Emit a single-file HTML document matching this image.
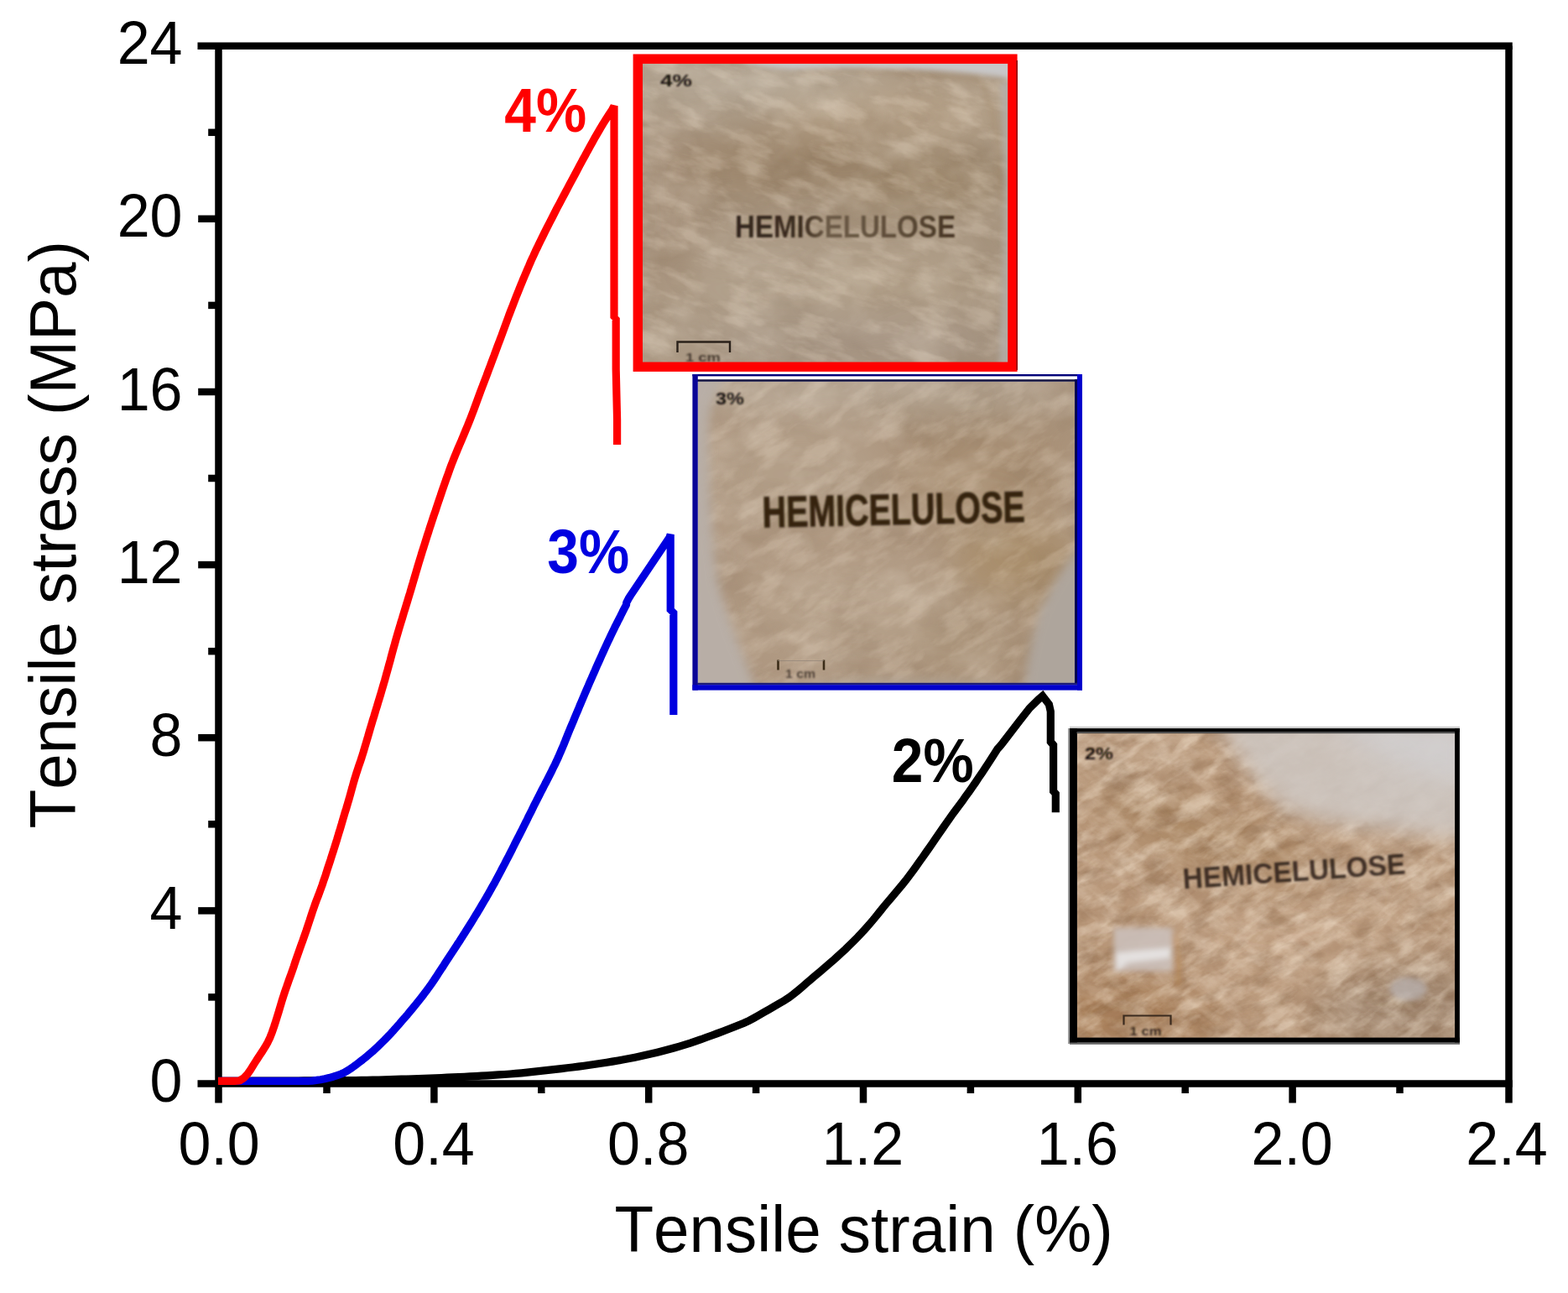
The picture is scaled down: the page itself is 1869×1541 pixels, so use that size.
<!DOCTYPE html>
<html lang="en"><head><meta charset="utf-8"><title>Tensile stress vs tensile strain</title>
<style>
html,body{margin:0;padding:0;background:#fff;}
body{width:1869px;height:1541px;overflow:hidden;}
svg{display:block;filter:blur(0.6px);}
text{font-family:"Liberation Sans",sans-serif;font-kerning:none;}
.tick{font-size:70px;fill:#000;}
.axl{font-size:76.4px;fill:#000;}
.lab{font-size:67.7px;font-weight:bold;}
</style></head><body>
<svg width="1869" height="1541" viewBox="0 0 1869 1541">
<rect width="1869" height="1541" fill="#fff"/>

<defs>
<filter id="b3" x="-20%" y="-20%" width="140%" height="140%"><feGaussianBlur stdDeviation="3"/></filter>
<filter id="b6" x="-30%" y="-30%" width="160%" height="160%"><feGaussianBlur stdDeviation="6"/></filter>
<filter id="b12" x="-50%" y="-50%" width="200%" height="200%"><feGaussianBlur stdDeviation="12"/></filter>
<filter id="b25" x="-60%" y="-60%" width="220%" height="220%"><feGaussianBlur stdDeviation="25"/></filter>
<filter id="tb" x="-5%" y="-20%" width="110%" height="140%"><feGaussianBlur stdDeviation="0.9"/></filter>
<filter id="txA" x="0" y="0" width="100%" height="100%" color-interpolation-filters="sRGB">
<feTurbulence type="fractalNoise" baseFrequency="0.016 0.022" numOctaves="4" seed="7"/>
<feColorMatrix type="matrix" values="0 0 0 0 1  0 0 0 0 0.97  0 0 0 0 0.92  2.2 0 0 0 -0.95"/>
</filter>
<filter id="txB" x="0" y="0" width="100%" height="100%" color-interpolation-filters="sRGB">
<feTurbulence type="fractalNoise" baseFrequency="0.014 0.02" numOctaves="4" seed="21"/>
<feColorMatrix type="matrix" values="0 0 0 0 0.38  0 0 0 0 0.28  0 0 0 0 0.18  2.0 0 0 0 -0.9"/>
</filter>
<filter id="txC" x="0" y="0" width="100%" height="100%" color-interpolation-filters="sRGB">
<feTurbulence type="fractalNoise" baseFrequency="0.035 0.05" numOctaves="4" seed="11"/>
<feColorMatrix type="matrix" values="0 0 0 0 1  0 0 0 0 0.96  0 0 0 0 0.9  3.0 0 0 0 -1.25"/>
</filter>
<filter id="txS" x="0" y="0" width="100%" height="100%" color-interpolation-filters="sRGB">
<feTurbulence type="fractalNoise" baseFrequency="0.022 0.06" numOctaves="4" seed="4"/>
<feColorMatrix type="matrix" values="0 0 0 0 1  0 0 0 0 0.95  0 0 0 0 0.88  3.4 0 0 0 -1.55"/>
</filter>
<filter id="txT" x="0" y="0" width="100%" height="100%" color-interpolation-filters="sRGB">
<feTurbulence type="fractalNoise" baseFrequency="0.024 0.065" numOctaves="4" seed="17"/>
<feColorMatrix type="matrix" values="0 0 0 0 0.42  0 0 0 0 0.28  0 0 0 0 0.16  3.0 0 0 0 -1.4"/>
</filter>
<filter id="txD" x="0" y="0" width="100%" height="100%" color-interpolation-filters="sRGB">
<feTurbulence type="fractalNoise" baseFrequency="0.03 0.045" numOctaves="4" seed="5"/>
<feColorMatrix type="matrix" values="0 0 0 0 0.45  0 0 0 0 0.3  0 0 0 0 0.2  2.6 0 0 0 -1.15"/>
</filter>
<linearGradient id="tg1" x1="0" y1="0" x2="1" y2="0"><stop offset="0" stop-color="#32241a"/><stop offset="0.3" stop-color="#3a2a1c"/><stop offset="0.42" stop-color="#6b5a46"/><stop offset="0.75" stop-color="#5c4b38"/><stop offset="1" stop-color="#43321f"/></linearGradient>
<clipPath id="cp1"><rect x="0" y="0" width="437" height="359"/></clipPath>
<clipPath id="cp2"><rect x="0" y="0" width="451" height="361"/></clipPath>
<clipPath id="cp3"><rect x="0" y="0" width="451" height="364"/></clipPath>
</defs>
<g transform="translate(765,74)"><g clip-path="url(#cp1)">
<rect width="437" height="359" fill="#aa9883"/>
<g filter="url(#b25)">
<ellipse cx="120" cy="22" rx="170" ry="20" fill="#bdb2a3" opacity="0.9"/>
<ellipse cx="300" cy="60" rx="150" ry="24" fill="#bba68c" opacity="0.9"/>
<ellipse cx="170" cy="120" rx="120" ry="45" fill="#9a8368" opacity="0.85"/>
<ellipse cx="320" cy="140" rx="120" ry="35" fill="#988165" opacity="0.85"/>
<ellipse cx="30" cy="180" rx="45" ry="120" fill="#a28c75" opacity="0.7"/>
<ellipse cx="150" cy="270" rx="120" ry="50" fill="#b3a28d" opacity="0.8"/>
<ellipse cx="310" cy="260" rx="100" ry="35" fill="#b3a18b" opacity="0.8"/>
<ellipse cx="260" cy="335" rx="200" ry="30" fill="#a69788" opacity="0.7"/>
</g>
<rect width="437" height="359" filter="url(#txA)" opacity="0.2"/>
<rect width="437" height="359" filter="url(#txB)" opacity="0.14"/>
<rect x="-150" y="-150" width="740" height="660" filter="url(#txS)" opacity="0.2" transform="rotate(18 218 180)"/>
<g filter="url(#b3)">
<path d="M110,-5 L445,-5 L445,22 C430,17 400,13 330,9 C260,6 220,6 190,9 C160,8 130,4 110,-5 Z" fill="#c8c7c8"/>
<path d="M445,20 L445,365 L426,365 C429,300 431,250 432,200 C433,150 432,90 428,26 Z" fill="#b3ada7" opacity="0.85"/>
</g>
<path d="M185,11 C240,8 330,12 400,20 C420,40 426,100 428,170" fill="none" stroke="#9c8262" stroke-width="2.5" opacity="0.55" filter="url(#b3)"/>
<text x="22" y="29" font-family="'DejaVu Sans','Liberation Sans',sans-serif" font-weight="bold" font-size="20.5" fill="#1a1410" textLength="38" lengthAdjust="spacingAndGlyphs" filter="url(#tb)">4%</text>
<text transform="translate(111,208.5) scale(1,1.12)" font-family="'Liberation Sans',sans-serif" font-weight="bold" font-size="33" fill="url(#tg1)" textLength="263" lengthAdjust="spacingAndGlyphs" filter="url(#tb)">HEMICELULOSE</text>
<path d="M42.5,346 V333.5 H105 V346" fill="none" stroke="#2a211a" stroke-width="2.4"/>
<text x="52" y="357" font-family="'Liberation Sans',sans-serif" font-weight="bold" font-size="15" fill="#3a2f26" textLength="42" lengthAdjust="spacingAndGlyphs" filter="url(#tb)" opacity="0.85">1 cm</text>
</g></g>
<g transform="translate(832,454.5)"><g clip-path="url(#cp2)">
<rect width="451" height="361" fill="#ae9780"/>
<g filter="url(#b25)">
<ellipse cx="200" cy="8" rx="260" ry="18" fill="#bdb2a2" opacity="0.95"/>
<ellipse cx="350" cy="42" rx="150" ry="16" fill="#9a8164" opacity="0.85"/>
<ellipse cx="120" cy="110" rx="110" ry="60" fill="#b5a28b" opacity="0.7"/>
<ellipse cx="340" cy="120" rx="110" ry="50" fill="#a58c6e" opacity="0.7"/>
<ellipse cx="380" cy="215" rx="80" ry="45" fill="#a88c66" opacity="0.8"/>
<ellipse cx="190" cy="270" rx="130" ry="60" fill="#b6a38c" opacity="0.8"/>
<ellipse cx="330" cy="320" rx="80" ry="40" fill="#a58e73" opacity="0.7"/>
</g>
<rect width="451" height="361" filter="url(#txA)" opacity="0.2"/>
<rect width="451" height="361" filter="url(#txB)" opacity="0.14"/>
<rect x="-150" y="-150" width="750" height="660" filter="url(#txS)" opacity="0.18" transform="rotate(-30 225 180)"/>
<g filter="url(#b6)">
<path d="M-10,-10 L40,-10 C20,10 12,30 12,60 C13,130 17,200 24,240 C36,290 56,330 72,375 L-10,375 Z" fill="#b8aea6"/>
<path d="M460,192 C440,212 420,245 408,275 C398,305 392,335 388,375 L460,375 Z" fill="#aea59c"/>
<path d="M70,375 C120,356 200,350 300,355 C345,357 378,364 394,375 Z" fill="#b0a494" opacity="0.7"/>
</g>
<text x="21" y="27" font-family="'DejaVu Sans','Liberation Sans',sans-serif" font-weight="bold" font-size="20" fill="#1a1410" textLength="34" lengthAdjust="spacingAndGlyphs" filter="url(#tb)">3%</text>
<text transform="translate(77,174) rotate(-1.2) scale(1,1.3)" font-family="'Liberation Sans',sans-serif" font-weight="bold" font-size="40" fill="#34240f" stroke="#34240f" stroke-width="0.7" textLength="313" lengthAdjust="spacingAndGlyphs" filter="url(#tb)">HEMICELULOSE</text>
<path d="M95.5,344 V332" fill="none" stroke="#3a2c18" stroke-width="2.6"/><path d="M150,344 V332" fill="none" stroke="#3a2c18" stroke-width="2.6"/><path d="M95,333 H150" fill="none" stroke="#8a7f74" stroke-width="1.2" opacity="0.6"/>
<text x="104" y="353" font-family="'Liberation Sans',sans-serif" font-weight="bold" font-size="14" fill="#3a2f26" textLength="36" lengthAdjust="spacingAndGlyphs" filter="url(#tb)" opacity="0.8">1 cm</text>
</g></g>
<g transform="translate(1283.5,873.5)"><g clip-path="url(#cp3)">
<rect width="451" height="364" fill="#b9987a"/>
<g filter="url(#b25)">
<ellipse cx="400" cy="40" rx="70" ry="40" fill="#cfcac7" opacity="0.8"/>
<ellipse cx="60" cy="30" rx="90" ry="30" fill="#c2a68c" opacity="0.8"/>
<ellipse cx="150" cy="120" rx="150" ry="40" fill="#a98663" opacity="0.85" transform="rotate(20 150 120)"/>
<ellipse cx="50" cy="335" rx="120" ry="45" fill="#a57b54" opacity="0.9"/>
<ellipse cx="390" cy="325" rx="110" ry="60" fill="#a08670" opacity="0.9"/>
<ellipse cx="250" cy="245" rx="150" ry="55" fill="#c3a486" opacity="0.7"/>
<ellipse cx="380" cy="170" rx="90" ry="40" fill="#bd9f84" opacity="0.6"/>
</g>
<rect width="451" height="364" filter="url(#txC)" opacity="0.18"/>
<rect width="451" height="364" filter="url(#txD)" opacity="0.14"/>
<rect x="-150" y="-150" width="750" height="660" filter="url(#txS)" opacity="0.34" transform="rotate(-32 225 182)"/>
<rect x="-150" y="-150" width="750" height="660" filter="url(#txT)" opacity="0.24" transform="rotate(-20 225 182)"/>
<rect x="-150" y="-150" width="750" height="660" filter="url(#txS)" opacity="0.16" transform="rotate(35 225 182)"/>
<g filter="url(#b12)">
<path d="M165,-20 L470,-20 L470,128 C420,122 370,116 320,110 C280,106 250,94 235,80 C205,48 185,20 165,-20 Z" fill="#cdc6c1" opacity="0.88"/>
<path d="M300,-10 L470,-10 L470,60 C420,50 360,30 300,-10 Z" fill="#d2d0d2" opacity="0.7"/>
</g>
<g filter="url(#b3)">
<rect x="44" y="232" width="70" height="52" fill="#c9bdb6" opacity="0.95"/>
<path d="M46,262 L112,256 L112,268 L60,274 L48,286 Z" fill="#e6e4e3" opacity="0.95"/>
<path d="M116,240 C120,260 122,285 120,300" fill="none" stroke="#b9854a" stroke-width="4" opacity="0.7"/>
<ellipse cx="395" cy="305" rx="22" ry="14" fill="#b9b3b4" opacity="0.7"/>
</g>
<text x="9.5" y="31" font-family="'DejaVu Sans','Liberation Sans',sans-serif" font-weight="bold" font-size="20" fill="#1a1008" textLength="34" lengthAdjust="spacingAndGlyphs" filter="url(#tb)">2%</text>
<text transform="translate(127,186) rotate(-3.9) scale(1,1.02)" font-family="'Liberation Sans',sans-serif" font-weight="bold" font-size="33.5" fill="#2c1e14" textLength="266" lengthAdjust="spacingAndGlyphs" filter="url(#tb)" opacity="0.85">HEMICELULOSE</text>
<path d="M56,348 V337 H112 V348" fill="none" stroke="#3a2a1e" stroke-width="2.2"/>
<text x="63" y="360" font-family="'DejaVu Sans','Liberation Sans',sans-serif" font-weight="bold" font-size="15" fill="#2a1d14" textLength="38" lengthAdjust="spacingAndGlyphs" filter="url(#tb)" opacity="0.9">1 cm</text>
</g></g>
<rect x="760.3" y="70.2" width="446.6" height="367" fill="none" stroke="#ff0000" stroke-width="11.4"/>
<rect x="1211.2" y="72" width="1.8" height="369" fill="#990000"/>
<g>
<rect x="825.4" y="446" width="464.6" height="8.8" fill="#fff"/>
<rect x="825.4" y="446" width="464.6" height="2.4" fill="#000078"/>
<rect x="831" y="452.2" width="452" height="2.6" fill="#141440"/>
<rect x="825.4" y="446" width="6.4" height="376.6" fill="#0a0596"/>
<rect x="1281" y="452" width="3.2" height="364" fill="#000050"/>
<rect x="1284" y="446" width="6" height="376.6" fill="#0000cc"/>
<rect x="831" y="813.8" width="453" height="2.6" fill="#1c1c78"/>
<rect x="825.4" y="816.2" width="464.6" height="6.4" fill="#0000cc"/>
</g>
<g>
<rect x="1272.6" y="866" width="467.3" height="379" fill="none" stroke="none"/>
<rect x="1273" y="868" width="2.4" height="376" fill="#999"/>
<rect x="1275" y="865.8" width="465" height="2.4" fill="#ccc"/>
<rect x="1275" y="1242.2" width="465" height="2.6" fill="#666"/>
<rect x="1275.1" y="868.1" width="8.8" height="374.3" fill="#000"/>
<rect x="1275.1" y="868.1" width="464.8" height="4.4" fill="#000"/>
<rect x="1283.5" y="872.3" width="451" height="1.8" fill="#444"/>
<rect x="1734.1" y="868.1" width="5.8" height="374.3" fill="#000"/>
<rect x="1275.1" y="1236.6" width="464.8" height="5.8" fill="#000"/>
</g>
<g stroke="#000" fill="none" stroke-width="8.5">
<line x1="235.5" y1="54.7" x2="1802.75" y2="54.7"/>
<line x1="235.5" y1="1291.5" x2="1802.75" y2="1291.5"/>
<line x1="260.5" y1="54.7" x2="260.5" y2="1314.5"/>
<line x1="1798.5" y1="54.7" x2="1798.5" y2="1314.5"/>
<line x1="389.5" y1="1291.5" x2="389.5" y2="1303.0"/>
<line x1="517.4" y1="1291.5" x2="517.4" y2="1314.5"/>
<line x1="645.3" y1="1291.5" x2="645.3" y2="1303.0"/>
<line x1="773.2" y1="1291.5" x2="773.2" y2="1314.5"/>
<line x1="901.1" y1="1291.5" x2="901.1" y2="1303.0"/>
<line x1="1029.0" y1="1291.5" x2="1029.0" y2="1314.5"/>
<line x1="1156.9" y1="1291.5" x2="1156.9" y2="1303.0"/>
<line x1="1284.8" y1="1291.5" x2="1284.8" y2="1314.5"/>
<line x1="1412.7" y1="1291.5" x2="1412.7" y2="1303.0"/>
<line x1="1540.6" y1="1291.5" x2="1540.6" y2="1314.5"/>
<line x1="1668.5" y1="1291.5" x2="1668.5" y2="1303.0"/>
<line x1="248.2" y1="1188.4" x2="260.5" y2="1188.4"/>
<line x1="236.2" y1="1085.4" x2="260.5" y2="1085.4"/>
<line x1="248.2" y1="982.3" x2="260.5" y2="982.3"/>
<line x1="236.2" y1="879.2" x2="260.5" y2="879.2"/>
<line x1="248.2" y1="776.2" x2="260.5" y2="776.2"/>
<line x1="236.2" y1="673.1" x2="260.5" y2="673.1"/>
<line x1="248.2" y1="570.0" x2="260.5" y2="570.0"/>
<line x1="236.2" y1="467.0" x2="260.5" y2="467.0"/>
<line x1="248.2" y1="363.9" x2="260.5" y2="363.9"/>
<line x1="236.2" y1="260.8" x2="260.5" y2="260.8"/>
<line x1="248.2" y1="157.8" x2="260.5" y2="157.8"/>
</g>
<g fill="none" stroke-linejoin="bevel" stroke-linecap="butt">
<path stroke-linejoin="miter" stroke-miterlimit="3" d="M260.0,1288.3 L266.8,1288.3 L273.7,1288.3 L280.5,1288.3 L287.3,1288.3 L294.1,1288.3 L301.0,1288.2 L307.8,1288.2 L314.6,1288.2 L321.4,1288.2 L328.3,1288.1 L335.1,1288.1 L341.9,1288.1 L348.7,1288.0 L355.6,1288.0 L362.4,1287.9 L369.2,1287.9 L376.0,1287.9 L382.9,1287.8 L389.7,1287.8 L396.5,1287.7 L403.4,1287.6 L410.2,1287.6 L417.0,1287.5 L423.8,1287.5 L430.7,1287.4 L437.5,1287.3 L444.3,1287.1 L451.1,1287.0 L458.0,1286.8 L464.8,1286.6 L471.6,1286.4 L478.4,1286.2 L485.2,1286.0 L492.1,1285.8 L498.9,1285.5 L505.7,1285.3 L512.5,1285.1 L519.4,1284.8 L526.2,1284.5 L533.0,1284.2 L539.8,1283.9 L546.6,1283.6 L553.5,1283.3 L560.3,1282.9 L567.1,1282.6 L573.9,1282.2 L580.7,1281.8 L587.5,1281.4 L594.4,1280.9 L601.2,1280.5 L608.0,1280.0 L614.8,1279.4 L621.6,1278.8 L628.4,1278.1 L635.1,1277.4 L641.9,1276.7 L648.7,1275.9 L655.5,1275.1 L662.3,1274.4 L669.1,1273.6 L675.9,1272.8 L682.6,1272.0 L689.4,1271.1 L696.2,1270.2 L702.9,1269.3 L709.7,1268.3 L716.4,1267.3 L723.2,1266.2 L729.9,1265.1 L736.7,1264.0 L743.4,1262.8 L750.1,1261.5 L756.8,1260.2 L763.5,1258.8 L770.1,1257.3 L776.8,1255.8 L783.4,1254.2 L790.1,1252.5 L796.7,1250.8 L803.2,1249.0 L809.8,1247.1 L816.3,1245.1 L822.8,1243.1 L829.3,1240.9 L835.7,1238.7 L842.2,1236.3 L848.6,1234.0 L855.0,1231.6 L861.4,1229.2 L867.8,1226.8 L874.2,1224.3 L880.5,1221.8 L886.8,1219.2 L893.0,1216.3 L899.0,1213.1 L904.9,1209.8 L910.9,1206.3 L916.8,1202.9 L922.7,1199.5 L928.7,1196.1 L934.6,1192.6 L940.3,1188.9 L945.7,1184.9 L951.0,1180.6 L956.2,1176.2 L961.4,1171.6 L966.6,1167.2 L971.8,1162.8 L977.0,1158.4 L982.2,1154.0 L987.4,1149.5 L992.6,1145.1 L997.7,1140.5 L1002.7,1135.9 L1007.7,1131.3 L1012.6,1126.5 L1017.5,1121.7 L1022.3,1116.9 L1027.0,1111.9 L1031.6,1106.9 L1036.1,1101.8 L1040.5,1096.6 L1044.8,1091.3 L1049.1,1086.0 L1053.4,1080.7 L1057.8,1075.4 L1062.2,1070.2 L1066.6,1065.0 L1071.0,1059.8 L1075.4,1054.5 L1079.7,1049.2 L1083.8,1043.8 L1087.9,1038.3 L1091.9,1032.8 L1095.8,1027.2 L1099.8,1021.6 L1103.7,1016.0 L1107.6,1010.5 L1111.5,1004.9 L1115.4,999.2 L1119.2,993.6 L1123.1,988.0 L1127.0,982.4 L1130.9,976.8 L1134.9,971.2 L1138.9,965.7 L1143.0,960.3 L1147.1,954.8 L1151.0,949.2 L1155.0,943.7 L1158.9,938.1 L1162.8,932.5 L1166.6,926.8 L1170.5,921.2 L1174.2,915.5 L1178.0,909.8 L1181.7,904.0 L1185.4,898.3 L1189.0,892.5 L1189.0,892.5 L1191.9,889.4 L1195.0,885.6 L1216.2,858.0 L1227.2,844.0 L1238.0,833.5 L1242.7,829.5 L1242.7,829.5 L1250.4,839.5 L1252.3,848.0 L1252.3,884.0 L1255.6,888.0 L1255.6,943.0 L1258.3,946.0 L1258.3,968.3" stroke="#000" stroke-width="9.2"/>
<path d="M260.0,1288.3 L265.1,1288.3 L270.2,1288.3 L275.3,1288.3 L280.5,1288.3 L285.6,1288.3 L290.7,1288.3 L295.8,1288.3 L300.9,1288.3 L306.0,1288.3 L311.0,1288.3 L316.1,1288.3 L321.2,1288.3 L326.3,1288.3 L331.4,1288.3 L336.5,1288.3 L341.6,1288.3 L346.6,1288.3 L351.7,1288.3 L356.8,1288.3 L361.9,1288.3 L366.9,1288.3 L372.0,1288.1 L377.1,1287.4 L382.1,1286.7 L387.2,1285.7 L392.2,1284.6 L397.2,1283.2 L402.0,1281.7 L406.7,1280.0 L411.2,1277.8 L415.5,1275.3 L419.8,1272.4 L424.0,1269.3 L428.1,1266.2 L432.2,1263.0 L436.1,1259.9 L440.0,1256.6 L443.9,1253.3 L447.6,1249.8 L451.4,1246.3 L455.0,1242.7 L458.6,1239.2 L462.2,1235.5 L465.7,1231.8 L469.1,1228.1 L472.5,1224.3 L475.9,1220.4 L479.2,1216.6 L482.6,1212.7 L485.9,1208.9 L489.1,1205.0 L492.4,1201.0 L495.6,1197.1 L498.8,1193.1 L502.0,1189.1 L505.1,1185.1 L508.2,1181.0 L511.2,1176.9 L514.1,1172.8 L517.0,1168.6 L519.8,1164.4 L522.6,1160.1 L525.4,1155.8 L528.2,1151.6 L530.9,1147.3 L533.7,1143.0 L536.5,1138.7 L539.3,1134.5 L542.1,1130.2 L544.9,1125.9 L547.7,1121.7 L550.4,1117.4 L553.2,1113.1 L555.9,1108.8 L558.6,1104.5 L561.3,1100.2 L564.0,1095.9 L566.6,1091.5 L569.3,1087.2 L571.9,1082.8 L574.5,1078.4 L577.1,1074.0 L579.7,1069.6 L582.2,1065.2 L584.7,1060.8 L587.2,1056.3 L589.7,1051.9 L592.1,1047.4 L594.5,1042.9 L596.9,1038.4 L599.2,1033.9 L601.6,1029.4 L603.9,1024.9 L606.3,1020.3 L608.6,1015.8 L610.9,1011.3 L613.2,1006.7 L615.5,1002.2 L617.8,997.7 L620.1,993.1 L622.4,988.6 L624.7,984.0 L627.0,979.4 L629.2,974.9 L631.5,970.3 L633.8,965.8 L636.0,961.2 L638.3,956.7 L640.6,952.1 L642.9,947.6 L645.2,943.0 L647.6,938.5 L649.9,934.0 L652.3,929.4 L654.6,924.9 L656.9,920.4 L659.1,915.8 L661.4,911.2 L663.6,906.6 L665.7,902.0 L667.7,897.3 L669.7,892.7 L671.7,888.0 L673.6,883.3 L675.5,878.5 L677.4,873.8 L679.3,869.1 L681.3,864.4 L683.3,859.7 L685.2,855.0 L687.2,850.3 L689.2,845.6 L691.1,840.9 L693.1,836.2 L695.1,831.5 L697.1,826.8 L699.1,822.1 L701.1,817.5 L703.1,812.8 L705.2,808.1 L707.2,803.5 L709.3,798.8 L711.3,794.1 L713.4,789.5 L715.5,784.8 L717.6,780.2 L719.7,775.5 L721.8,770.9 L723.9,766.3 L726.1,761.7 L728.3,757.1 L730.5,752.5 L732.7,747.9 L735.0,743.4 L737.3,738.8 L739.6,734.3 L741.9,729.7 L744.2,725.2 L746.6,720.7 L746.6,718.5 L749.0,713.8 L751.5,709.8 L775.0,674.8 L798.0,640.5 L799.2,637.0 L799.2,728.5 L802.8,728.5 L802.8,852.0" stroke="#0000e0" stroke-width="9.2"/>
<path d="M260.0,1288.3 L266.7,1288.3 L273.2,1288.3 L279.4,1288.3 L285.5,1288.0 L290.8,1284.7 L295.0,1280.2 L298.7,1274.8 L302.2,1269.1 L305.7,1263.6 L309.2,1258.3 L312.8,1252.9 L316.2,1247.4 L319.3,1241.9 L322.0,1236.2 L324.3,1230.3 L326.4,1224.2 L328.4,1218.1 L330.3,1212.0 L332.2,1205.9 L334.0,1199.8 L335.8,1193.7 L337.7,1187.6 L339.7,1181.5 L341.8,1175.5 L343.9,1169.4 L346.1,1163.4 L348.2,1157.4 L350.3,1151.4 L352.3,1145.3 L354.4,1139.3 L356.5,1133.3 L358.6,1127.3 L360.8,1121.2 L362.9,1115.2 L365.0,1109.2 L367.0,1103.1 L369.0,1097.1 L371.0,1091.0 L373.0,1084.9 L375.1,1078.9 L377.3,1072.9 L379.6,1067.0 L381.8,1061.0 L384.0,1055.0 L386.0,1048.9 L388.1,1042.9 L390.0,1036.8 L392.0,1030.7 L394.0,1024.7 L395.9,1018.6 L397.9,1012.5 L399.8,1006.4 L401.7,1000.3 L403.5,994.2 L405.4,988.1 L407.2,982.0 L409.0,975.8 L410.8,969.7 L412.7,963.6 L414.5,957.5 L416.3,951.4 L418.0,945.2 L419.7,939.1 L421.4,932.9 L423.2,926.8 L425.1,920.7 L427.1,914.6 L429.2,908.6 L431.2,902.5 L433.1,896.4 L434.9,890.3 L436.7,884.2 L438.5,878.1 L440.3,871.9 L442.1,865.8 L443.9,859.7 L445.8,853.6 L447.6,847.5 L449.5,841.4 L451.3,835.3 L453.2,829.2 L455.0,823.0 L456.8,816.9 L458.6,810.8 L460.3,804.6 L462.0,798.5 L463.7,792.3 L465.4,786.2 L467.0,780.0 L468.7,773.8 L470.4,767.7 L472.1,761.5 L473.9,755.4 L475.7,749.3 L477.5,743.2 L479.4,737.1 L481.2,731.0 L483.1,724.8 L485.0,718.7 L486.8,712.6 L488.7,706.5 L490.5,700.4 L492.3,694.3 L494.1,688.1 L495.9,682.0 L497.7,675.9 L499.5,669.8 L501.4,663.7 L503.2,657.6 L505.2,651.5 L507.1,645.4 L509.0,639.3 L511.0,633.2 L512.9,627.2 L514.9,621.1 L516.9,615.0 L519.0,609.0 L521.0,602.9 L523.0,596.9 L525.1,590.8 L527.1,584.8 L529.2,578.7 L531.3,572.7 L533.5,566.7 L535.6,560.7 L537.8,554.7 L540.1,548.8 L542.5,542.8 L544.9,536.9 L547.4,531.0 L549.9,525.2 L552.4,519.3 L554.8,513.4 L557.3,507.5 L559.7,501.6 L562.0,495.6 L564.3,489.7 L566.5,483.7 L568.7,477.7 L570.9,471.7 L573.1,465.7 L575.4,459.7 L577.6,453.8 L579.9,447.8 L582.1,441.8 L584.4,435.8 L586.6,429.9 L588.9,423.9 L591.1,417.9 L593.3,411.9 L595.6,405.9 L597.8,400.0 L600.0,394.0 L602.2,388.0 L604.4,382.0 L606.6,376.0 L608.9,370.0 L611.2,364.1 L613.5,358.1 L615.8,352.2 L618.2,346.3 L620.6,340.3 L623.0,334.4 L625.5,328.5 L628.0,322.6 L630.5,316.8 L633.0,310.9 L635.7,305.1 L638.3,299.3 L641.1,293.6 L643.9,287.8 L646.7,282.1 L649.5,276.4 L652.4,270.7 L655.3,265.0 L658.2,259.3 L661.1,253.6 L664.0,247.9 L667.0,242.3 L670.0,236.6 L673.0,231.0 L676.0,225.3 L679.0,219.7 L682.0,214.1 L685.0,208.5 L688.0,202.8 L691.0,197.2 L694.0,191.6 L697.1,186.0 L700.1,180.4 L703.2,174.8 L706.3,169.2 L709.4,163.6 L712.6,158.1 L715.8,152.6 L719.1,147.1 L722.5,141.7 L726.0,136.3 L729.5,131.0 L732.0,126.3 L732.0,379.0 L734.2,379.0 L734.2,440.0 L735.6,500.0 L735.6,530.0" stroke="#ff0000" stroke-width="9.2"/>
</g>
<text class="tick" text-anchor="middle" transform="translate(261.1,1388.0) scale(1,1.04)">0.0</text>
<text class="tick" text-anchor="middle" transform="translate(516.9,1388.0) scale(1,1.04)">0.4</text>
<text class="tick" text-anchor="middle" transform="translate(772.7,1388.0) scale(1,1.04)">0.8</text>
<text class="tick" text-anchor="middle" transform="translate(1028.5,1388.0) scale(1,1.04)">1.2</text>
<text class="tick" text-anchor="middle" transform="translate(1284.3,1388.0) scale(1,1.04)">1.6</text>
<text class="tick" text-anchor="middle" transform="translate(1540.1,1388.0) scale(1,1.04)">2.0</text>
<text class="tick" text-anchor="middle" transform="translate(1795.9,1388.0) scale(1,1.04)">2.4</text>
<text class="tick" text-anchor="end" transform="translate(217.5,1313.0) scale(1,1.04)">0</text>
<text class="tick" text-anchor="end" transform="translate(217.5,1106.9) scale(1,1.04)">4</text>
<text class="tick" text-anchor="end" transform="translate(217.5,900.7) scale(1,1.04)">8</text>
<text class="tick" text-anchor="end" transform="translate(217.5,694.6) scale(1,1.04)">12</text>
<text class="tick" text-anchor="end" transform="translate(217.5,488.5) scale(1,1.04)">16</text>
<text class="tick" text-anchor="end" transform="translate(217.5,282.3) scale(1,1.04)">20</text>
<text class="tick" text-anchor="end" transform="translate(217.5,76.2) scale(1,1.04)">24</text>
<text class="axl" text-anchor="middle" transform="translate(1029.5,1491.9) scale(1,1.012)">Tensile strain (%)</text>
<text class="axl" text-anchor="middle" transform="translate(90.0,637.2) rotate(-90) scale(1,1.02)">Tensile stress (MPa)</text>
<text class="lab" text-anchor="start" transform="translate(601.3,156.6) scale(1,1.09)" fill="#ff0000">4%</text>
<text class="lab" text-anchor="start" transform="translate(652.3,683.0) scale(1,1.09)" fill="#0000e0">3%</text>
<text class="lab" text-anchor="start" transform="translate(1062.8,932.4) scale(1,1.09)" fill="#000">2%</text>
</svg></body></html>
